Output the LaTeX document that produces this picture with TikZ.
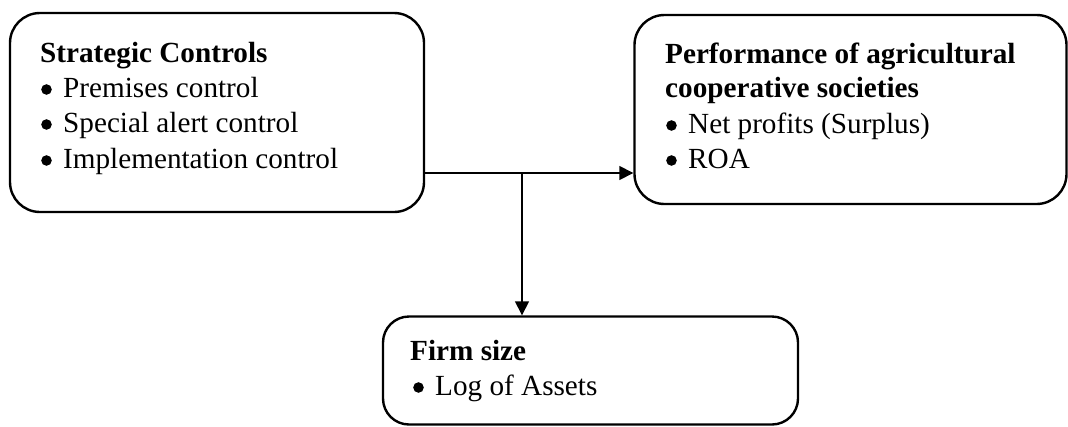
\documentclass[tikz,border=0pt]{standalone}
\usepackage{fontspec}
\setmainfont{Liberation Serif}
\usetikzlibrary{arrows.meta}
\begin{document}
\begin{tikzpicture}[x=1pt,y=-1pt,
  box/.style={draw=black,line width=2.4pt,rounded corners=30pt,inner sep=0pt},
  conn/.style={draw=black,line width=1.5pt},
  tip/.style={-{Triangle[length=14pt,width=14pt]}},
  txt/.style={anchor=base west,inner sep=0pt,font=\fontsize{29.2}{35}\selectfont},
  head/.style={txt,font=\fontsize{29.2}{35}\selectfont\bfseries},
  dot/.style={fill=black}]
\useasboundingbox (0,0) rectangle (1068,426);
% three variable boxes
\node[box,minimum width=414pt,minimum height=199pt] (sc) at (217,112.5) {};
\node[box,minimum width=432pt,minimum height=189pt] (perf) at (850.5,109.5) {};
\node[box,rounded corners=26pt,minimum width=415pt,minimum height=108pt] (fs) at (590.5,370.5) {};
% contents of the strategic controls box
\node[head] (sch) at (40,62) {Strategic Controls};
\node[txt] (sc1) at (63,97) {Premises control};
\node[txt] (sc2) at (63,132) {Special alert control};
\node[txt] (sc3) at (63,168) {Implementation control};
% contents of the performance box
\node[head] (pfh1) at (665,63) {Performance of agricultural};
\node[head] (pfh2) at (665,97) {cooperative societies};
\node[txt] (pf1) at (688,133) {Net profits (Surplus)};
\node[txt] (pf2) at (688,168) {ROA};
% contents of the firm size box
\node[head] (fsh) at (410,360) {Firm size};
\node[txt] (fs1) at (435,395) {Log of Assets};
% list bullets, set just left of each item
\foreach \t in {sc1,sc2,sc3,pf1,pf2,fs1}
  \fill[dot] ([xshift=-16.5pt,yshift=7.5pt]\t.base west) circle (5.3pt);
% connectors
\coordinate (j) at (522,173);
\draw[conn,tip] (sc.east |- j) -- (perf.west |- j);
\draw[conn,tip] (j) -- (fs.north -| j);
\end{tikzpicture}
\end{document}
